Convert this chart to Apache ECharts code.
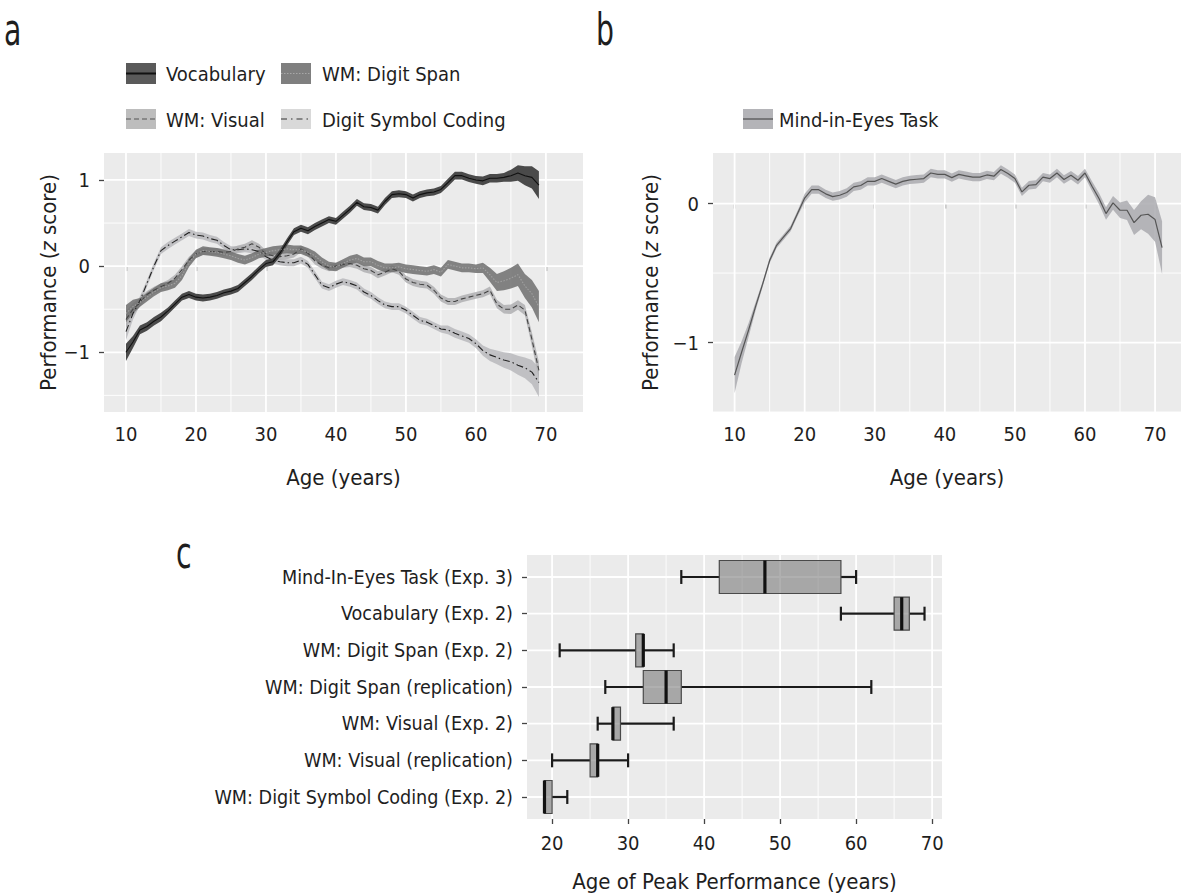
<!DOCTYPE html>
<html><head><meta charset="utf-8">
<script src="https://cdn.jsdelivr.net/npm/echarts@6/dist/echarts.min.js"></script>
<style>html,body{margin:0;padding:0;background:#fff}#c{width:1181px;height:893px}</style>
</head><body><div id="c"></div>
<script>
// ---------- DATA ----------
const agesA = [10,11,12,13,14,15,16,17,18,19,20,21,22,23,24,25,26,27,28,29,30,31,32,33,34,35,36,37,38,39,40,41,42,43,44,45,46,47,48,49,50,51,52,53,54,55,56,57,58,59,60,61,62,63,64,65,66,67,68,69];
const vocab = [-1.00,-0.88,-0.74,-0.70,-0.64,-0.59,-0.52,-0.44,-0.36,-0.33,-0.36,-0.37,-0.36,-0.34,-0.31,-0.29,-0.26,-0.19,-0.12,-0.04,0.03,0.05,0.15,0.28,0.40,0.44,0.41,0.46,0.50,0.54,0.52,0.59,0.66,0.74,0.69,0.68,0.65,0.75,0.83,0.84,0.83,0.79,0.83,0.85,0.86,0.89,0.97,1.05,1.05,1.02,1.00,0.99,1.02,1.02,1.03,1.05,1.08,1.05,1.03,0.94];
const vocabSe = [0.10,0.07,0.05,0.05,0.05,0.05,0.04,0.04,0.04,0.04,0.04,0.04,0.04,0.04,0.04,0.04,0.04,0.04,0.04,0.04,0.04,0.04,0.04,0.04,0.04,0.04,0.04,0.04,0.04,0.04,0.04,0.04,0.04,0.04,0.04,0.04,0.04,0.04,0.04,0.04,0.04,0.04,0.04,0.04,0.04,0.04,0.045,0.045,0.045,0.045,0.045,0.05,0.05,0.05,0.05,0.07,0.09,0.11,0.13,0.16];
const span = [-0.55,-0.47,-0.42,-0.36,-0.30,-0.25,-0.23,-0.20,-0.11,0.04,0.14,0.18,0.17,0.16,0.14,0.12,0.09,0.07,0.10,0.14,0.16,0.18,0.19,0.20,0.19,0.19,0.16,0.12,0.05,0.00,-0.01,0.03,0.07,0.09,0.05,0.05,0.01,-0.02,-0.02,-0.01,-0.03,-0.04,-0.05,-0.06,-0.04,-0.07,0.02,0.00,-0.02,-0.02,-0.03,-0.02,-0.10,-0.19,-0.17,-0.14,-0.10,-0.23,-0.32,-0.47];
const spanSe = [0.10,0.08,0.05,0.05,0.05,0.05,0.05,0.05,0.05,0.05,0.05,0.05,0.05,0.05,0.05,0.05,0.05,0.05,0.05,0.05,0.05,0.05,0.05,0.05,0.05,0.05,0.05,0.05,0.05,0.05,0.05,0.05,0.05,0.05,0.05,0.05,0.05,0.05,0.05,0.05,0.05,0.05,0.05,0.05,0.05,0.05,0.05,0.05,0.05,0.05,0.05,0.06,0.08,0.10,0.11,0.12,0.13,0.14,0.16,0.18];
const visual = [-0.62,-0.50,-0.42,-0.33,-0.28,-0.24,-0.20,-0.14,-0.04,0.07,0.14,0.17,0.17,0.17,0.16,0.17,0.20,0.22,0.26,0.22,0.14,0.12,0.11,0.12,0.14,0.20,0.15,0.06,0.01,-0.02,0.00,0.02,0.03,0.01,-0.03,-0.05,-0.10,-0.07,-0.03,-0.06,-0.15,-0.19,-0.21,-0.22,-0.28,-0.37,-0.41,-0.41,-0.38,-0.36,-0.34,-0.32,-0.28,-0.44,-0.50,-0.50,-0.45,-0.51,-0.85,-1.21];
const visualSe = [0.10,0.07,0.05,0.04,0.04,0.04,0.04,0.04,0.04,0.04,0.04,0.04,0.04,0.04,0.04,0.04,0.04,0.04,0.04,0.04,0.04,0.04,0.04,0.04,0.04,0.04,0.04,0.04,0.04,0.04,0.04,0.04,0.04,0.04,0.04,0.04,0.04,0.04,0.04,0.04,0.04,0.04,0.04,0.04,0.04,0.04,0.04,0.04,0.04,0.04,0.04,0.04,0.045,0.05,0.05,0.055,0.055,0.06,0.08,0.10];
const dsc = [-0.76,-0.55,-0.40,-0.20,0.00,0.18,0.24,0.29,0.34,0.39,0.36,0.35,0.32,0.30,0.24,0.19,0.19,0.20,0.19,0.17,0.11,0.07,0.05,0.04,0.04,0.07,0.02,-0.10,-0.22,-0.25,-0.21,-0.18,-0.20,-0.23,-0.30,-0.34,-0.40,-0.45,-0.47,-0.47,-0.51,-0.57,-0.63,-0.65,-0.69,-0.73,-0.74,-0.78,-0.81,-0.84,-0.90,-0.98,-1.03,-1.06,-1.09,-1.11,-1.15,-1.18,-1.23,-1.35];
const dscSe = [0.10,0.07,0.05,0.04,0.04,0.04,0.04,0.04,0.04,0.04,0.04,0.04,0.04,0.04,0.04,0.04,0.04,0.04,0.04,0.04,0.04,0.04,0.04,0.04,0.04,0.04,0.04,0.04,0.04,0.04,0.04,0.04,0.04,0.04,0.04,0.04,0.04,0.04,0.04,0.04,0.04,0.04,0.04,0.04,0.04,0.04,0.05,0.05,0.05,0.05,0.05,0.06,0.07,0.08,0.09,0.10,0.11,0.12,0.14,0.17];

const agesB = [10,11,12,13,14,15,16,17,18,19,20,21,22,23,24,25,26,27,28,29,30,31,32,33,34,35,36,37,38,39,40,41,42,43,44,45,46,47,48,49,50,51,52,53,54,55,56,57,58,59,60,61,62,63,64,65,66,67,68,69,70,71];
const mie = [-1.235,-1.07,-0.91,-0.74,-0.58,-0.41,-0.30,-0.24,-0.18,-0.07,0.04,0.10,0.10,0.07,0.05,0.06,0.08,0.12,0.13,0.16,0.16,0.18,0.16,0.14,0.16,0.17,0.175,0.18,0.22,0.21,0.21,0.187,0.21,0.20,0.19,0.19,0.206,0.197,0.245,0.216,0.18,0.084,0.132,0.137,0.19,0.18,0.22,0.173,0.204,0.168,0.22,0.125,0.036,-0.072,0.005,-0.048,-0.048,-0.137,-0.084,-0.077,-0.115,-0.317];
const mieSe = [0.13,0.08,0.05,0.03,0.02,0.02,0.02,0.02,0.02,0.02,0.03,0.03,0.03,0.03,0.03,0.03,0.03,0.03,0.03,0.03,0.03,0.03,0.03,0.03,0.03,0.03,0.03,0.03,0.03,0.03,0.03,0.03,0.03,0.03,0.03,0.03,0.03,0.03,0.03,0.03,0.03,0.03,0.03,0.03,0.03,0.03,0.03,0.03,0.03,0.03,0.03,0.035,0.04,0.045,0.05,0.055,0.07,0.09,0.10,0.14,0.16,0.19];

const boxCats = ['Mind-In-Eyes Task (Exp. 3)','Vocabulary (Exp. 2)','WM: Digit Span (Exp. 2)','WM: Digit Span (replication)','WM: Visual (Exp. 2)','WM: Visual (replication)','WM: Digit Symbol Coding (Exp. 2)'];
const whiskLo = [37,58,21,27,26,20,19];
const q1 =      [42,65,31,32,28,25,19];
const med =     [48,66,32,35,28,26,19];
const q3 =      [58,67,32,37,29,26,20];
const whiskHi = [60,69,36,62,36,30,22];

const ticksX = [10,20,30,40,50,60,70];
const minorX = [15,25,35,45,55,65];
const ticksYA = [-1,0,1];
const minorYA = [-1.5,-0.5,0.5];
const ticksYB = [-1,0];
const minorYB = [-1.5,-0.5];
const ticksXC = [20,30,40,50,60,70];
const minorXC = [25,35,45,55,65];

// ---------- HELPERS ----------
const FF = "'DejaVu Sans Condensed','Liberation Sans Narrow',sans-serif";
const TXT = '#1e1e1e';
const BG = '#ebebeb';

function gridLines(gi, xMaj, xMin, yMaj, yMin) {
  return {
    type: 'custom', xAxisIndex: gi, yAxisIndex: gi, z: 1, silent: true,
    data: [[xMaj[0], yMaj[0]]],
    renderItem: function (params, api) {
      const cs = params.coordSys;
      const ch = [];
      const vl = (v, w) => { const p = api.coord([v, yMaj[0]]); ch.push({type:'line', shape:{x1:p[0], y1:cs.y, x2:p[0], y2:cs.y+cs.height}, style:{stroke:'#fff', lineWidth:w}}); };
      const hl = (v, w) => { const p = api.coord([xMaj[0], v]); ch.push({type:'line', shape:{x1:cs.x, y1:p[1], x2:cs.x+cs.width, y2:p[1]}, style:{stroke:'#fff', lineWidth:w}}); };
      xMin.forEach(v => vl(v, 0.9)); yMin.forEach(v => hl(v, 0.9));
      xMaj.forEach(v => vl(v, 1.8)); yMaj.forEach(v => hl(v, 1.8));
      return {type:'group', children: ch};
    }
  };
}
function ribbon(gi, xs, ys, se, fill, z) {
  return {
    type: 'custom', xAxisIndex: gi, yAxisIndex: gi, z: z, silent: true,
    data: xs.map((x, i) => [x, ys[i]]),
    renderItem: function (params, api) {
      if (params.dataIndex !== 0) return null;
      const up = xs.map((x, i) => api.coord([x, ys[i] + se[i]]));
      const lo = xs.map((x, i) => api.coord([x, ys[i] - se[i]])).reverse();
      return {type:'polygon', shape:{points: up.concat(lo)}, style:{fill: fill}};
    }
  };
}
function line(gi, xs, ys, color, type, width, z) {
  return {
    type: 'line', xAxisIndex: gi, yAxisIndex: gi, z: z, silent: true,
    data: xs.map((x, i) => [x, ys[i]]), showSymbol: false, symbol: 'none',
    lineStyle: {color: color, width: width, type: type}, animation: false
  };
}
function valAxis(gi, min, max, ticks, pos, margin, extra) {
  return Object.assign({
    type: 'value', gridIndex: gi, min: min, max: max, position: pos,
    axisLine: {show: false},
    axisTick: {show: true, length: 5, lineStyle: {color: '#444', width: 1.3}, customValues: ticks},
    axisLabel: {customValues: ticks, color: TXT, fontFamily: FF, fontSize: 20, margin: margin,
      formatter: v => (v < 0 ? '\u2212' + Math.abs(v) : String(v))},
    splitLine: {show: false}
  }, extra || {});
}
const yName = '{n|Performance (}{i|z}{n| score)}';
const nameStyle = {color: TXT, fontFamily: FF, fontSize: 22,
  rich: {n: {fontFamily: FF, fontSize: 22, color: TXT}, i: {fontFamily: FF, fontSize: 22, color: TXT, fontStyle: 'italic'}}};
const panelLetter = (t, x, y) => ({type: 'text', x: x, y: y, scaleX: 0.7,
  style: {text: t, fontFamily: FF, fontSize: 45, lineHeight: 45, fill: TXT, verticalAlign: 'bottom'}});
const legText = (t, x, y) => ({type: 'text', x: x, y: y,
  style: {text: t, fontFamily: FF, fontSize: 20, fill: TXT, verticalAlign: 'middle'}});

// ---------- CHART ----------
const chart = echarts.init(document.getElementById('c'), null, {renderer: 'svg'});
const option = {
  animation: false,
  backgroundColor: '#fff',
  grid: [
    {left: 104, top: 153, width: 479, height: 259, show: true, backgroundColor: BG, borderWidth: 0},
    {left: 713, top: 153, width: 468, height: 259, show: true, backgroundColor: BG, borderWidth: 0},
    {left: 527, top: 555, width: 415, height: 268, show: true, backgroundColor: BG, borderWidth: 0}
  ],
  xAxis: [
    valAxis(0, 6.86, 75.3, ticksX, 'bottom', 12, {name: 'Age (years)', nameLocation: 'middle', nameGap: 54, nameTextStyle: nameStyle}),
    valAxis(1, 6.92, 73.7, ticksX, 'bottom', 12, {name: 'Age (years)', nameLocation: 'middle', nameGap: 54, nameTextStyle: nameStyle}),
    valAxis(2, 16.7, 71.3, ticksXC, 'bottom', 14, {name: 'Age of Peak Performance (years)', nameLocation: 'middle', nameGap: 51, nameTextStyle: nameStyle})
  ],
  yAxis: [
    valAxis(0, -1.693, 1.313, ticksYA, 'left', 14, {name: yName, nameLocation: 'middle', nameGap: 43, nameRotate: 90, nameTextStyle: nameStyle}),
    valAxis(1, -1.5, 0.364, ticksYB, 'left', 14, {name: yName, nameLocation: 'middle', nameGap: 52, nameRotate: 90, nameTextStyle: nameStyle}),
    {
      type: 'value', gridIndex: 2, min: 0.4, max: 7.6, inverse: true,
      axisLine: {show: false},
      axisTick: {show: true, length: 5, lineStyle: {color: '#444', width: 1.3}, customValues: [1,2,3,4,5,6,7]},
      axisLabel: {customValues: [1,2,3,4,5,6,7], color: TXT, fontFamily: FF, fontSize: 19.6, margin: 14,
        formatter: v => boxCats[Math.round(v) - 1] || ''},
      splitLine: {show: false}
    }
  ],
  series: [
    gridLines(0, ticksX, minorX, ticksYA, minorYA),
    ribbon(0, agesA, dsc, dscSe, 'rgba(185,185,188,0.85)', 3),
    ribbon(0, agesA, visual, visualSe, 'rgba(175,175,178,0.85)', 4),
    ribbon(0, agesA, span, spanSe, 'rgba(110,110,110,0.85)', 5),
    ribbon(0, agesA, vocab, vocabSe, 'rgba(60,60,60,0.92)', 6),
    line(0, agesA, dsc, '#222', [7,3,1.5,3], 1.1, 10),
    line(0, agesA, visual, '#444', [5,3], 1.1, 10),
    line(0, agesA, span, '#a0a0a0', [1.5,1.5], 1.1, 10),
    line(0, agesA, vocab, '#111', 'solid', 1.1, 11),

    gridLines(1, ticksX, minorX, ticksYB, minorYB),
    ribbon(1, agesB, mie, mieSe, 'rgba(170,170,175,0.85)', 3),
    line(1, agesB, mie, '#555', 'solid', 1.2, 10),

    gridLines(2, ticksXC, minorXC, [1,2,3,4,5,6,7], []),
    {
      type: 'custom', xAxisIndex: 2, yAxisIndex: 2, z: 5, silent: true,
      data: boxCats.map((c, i) => [whiskLo[i], q1[i], med[i], q3[i], whiskHi[i], i + 1]),
      encode: {x: [0, 1, 2, 3, 4], y: 5},
      renderItem: function (params, api) {
        const i = params.dataIndex, yv = i + 1;
        const pLo = api.coord([whiskLo[i], yv]), pQ1 = api.coord([q1[i], yv]), pMed = api.coord([med[i], yv]);
        const pQ3 = api.coord([q3[i], yv]), pHi = api.coord([whiskHi[i], yv]);
        const unit = Math.abs(api.size([0, 1])[1]);
        const bh = unit * 0.9, cap = unit * 0.38, y = pLo[1];
        const st = {stroke: '#1a1a1a', lineWidth: 2.2};
        return {type: 'group', children: [
          {type: 'line', shape: {x1: pLo[0], y1: y, x2: pQ1[0], y2: y}, style: st},
          {type: 'line', shape: {x1: pQ3[0], y1: y, x2: pHi[0], y2: y}, style: st},
          {type: 'line', shape: {x1: pLo[0], y1: y - cap / 2, x2: pLo[0], y2: y + cap / 2}, style: st},
          {type: 'line', shape: {x1: pHi[0], y1: y - cap / 2, x2: pHi[0], y2: y + cap / 2}, style: st},
          {type: 'rect', shape: {x: pQ1[0], y: y - bh / 2, width: pQ3[0] - pQ1[0], height: bh}, style: {fill: 'rgba(112,112,112,0.55)', stroke: '#4a4a4a', lineWidth: 1.2}},
          {type: 'line', shape: {x1: pMed[0], y1: y - bh / 2, x2: pMed[0], y2: y + bh / 2}, style: {stroke: '#111', lineWidth: 3.2}}
        ]};
      }
    }
  ],
  graphic: [
    panelLetter('a', 4, 52),
    panelLetter('b', 596, 52),
    panelLetter('c', 176, 575),
    // legend panel a
    {type: 'rect', shape: {x: 126, y: 63, width: 30, height: 21}, style: {fill: '#5a5a5a'}},
    {type: 'line', shape: {x1: 126, y1: 73.5, x2: 156, y2: 73.5}, style: {stroke: '#111', lineWidth: 2}},
    legText('Vocabulary', 166, 74),
    {type: 'rect', shape: {x: 281, y: 63, width: 30, height: 21}, style: {fill: '#7f7f7f'}},
    {type: 'line', shape: {x1: 281, y1: 73.5, x2: 311, y2: 73.5}, style: {stroke: '#a8a8a8', lineWidth: 1, lineDash: [1.5, 1.5]}},
    legText('WM: Digit Span', 322, 74),
    {type: 'rect', shape: {x: 126, y: 109, width: 30, height: 20}, style: {fill: '#bdbdbd'}},
    {type: 'line', shape: {x1: 126, y1: 119, x2: 156, y2: 119}, style: {stroke: '#555', lineWidth: 1.2, lineDash: [5, 3]}},
    legText('WM: Visual', 166, 120),
    {type: 'rect', shape: {x: 281, y: 109, width: 30, height: 20}, style: {fill: '#d9d9d9'}},
    {type: 'line', shape: {x1: 281, y1: 119, x2: 311, y2: 119}, style: {stroke: '#333', lineWidth: 1.2, lineDash: [6, 4, 1.5, 4]}},
    legText('Digit Symbol Coding', 322, 120),
    // legend panel b
    {type: 'rect', shape: {x: 743, y: 109, width: 30, height: 20}, style: {fill: '#b4b4b8'}},
    {type: 'line', shape: {x1: 743, y1: 119, x2: 773, y2: 119}, style: {stroke: '#555', lineWidth: 1.3}},
    legText('Mind-in-Eyes Task', 779, 120)
  ]
};
chart.setOption(option);
</script>
</body></html>
